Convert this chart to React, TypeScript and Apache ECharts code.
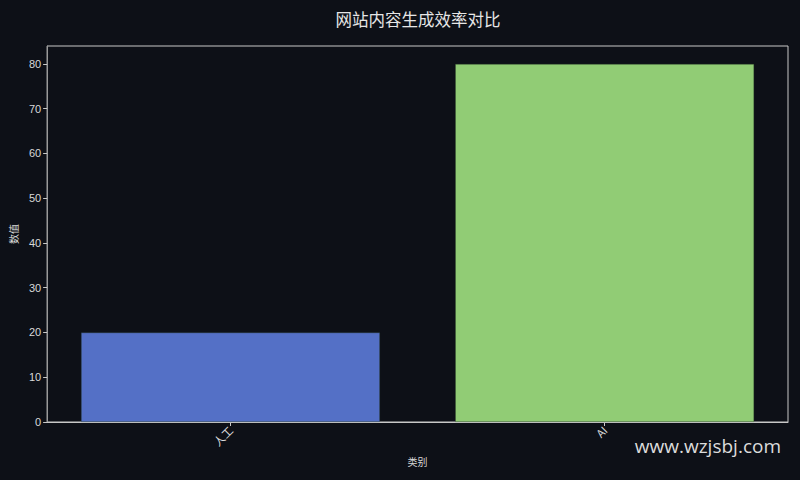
import { useEffect, useRef } from 'react';
import * as echarts from 'echarts';
import type { ECharts, EChartsOption } from 'echarts';

// 数据
const categories = ['人工', 'AI'];
const values = [20, 80];
const barColors = ['#5470c6', '#91cc75'];
const yTicks = [0, 10, 20, 30, 40, 50, 60, 70, 80];

const BG = '#0d1017';
const TEXT = '#d9d9d9';
const CJK = '"Noto Sans CJK SC", sans-serif';

const App = () => {
    const chartRef = useRef<HTMLDivElement>(null);
    const chartInstance = useRef<ECharts | null>(null);

    useEffect(() => {
        document.body.style.margin = '0';
        document.body.style.background = BG;
        if (!chartRef.current) return;
        chartInstance.current = echarts.init(chartRef.current, null, { renderer: 'svg' });

        const option: EChartsOption = {
            animation: false,
            backgroundColor: BG,
            textStyle: { fontFamily: '"Liberation Sans", "Noto Sans CJK SC", sans-serif' },
            title: {
                text: '网站内容生成效率对比',
                left: 413,
                textAlign: 'center',
                top: 6,
                textStyle: {
                    color: '#e6e6e6',
                    fontSize: 16.5,
                    fontWeight: 'normal',
                    fontFamily: CJK
                }
            },
            grid: {
                left: 46,
                right: 12,
                top: 46,
                bottom: 58,
                show: true,
                borderColor: '#c8c8c8',
                borderWidth: 1,
                backgroundColor: 'transparent'
            },
            // 数值型 x 轴，模拟 matplotlib 的边距 (-0.49 ~ 1.49)
            xAxis: {
                type: 'value',
                min: -0.49,
                max: 1.49,
                name: '类别',
                nameLocation: 'middle',
                nameGap: 34,
                nameTextStyle: { color: TEXT, fontSize: 10, fontFamily: CJK },
                axisLine: { show: true, onZero: false, lineStyle: { color: '#c8c8c8', width: 1 } },
                axisTick: {
                    show: true,
                    length: 4,
                    customValues: categories.map((_, i) => i),
                    lineStyle: { color: '#c8c8c8' }
                },
                axisLabel: {
                    rotate: 45,
                    margin: 6,
                    color: TEXT,
                    fontSize: 11,
                    fontFamily: CJK,
                    customValues: categories.map((_, i) => i),
                    formatter: (v: number) => categories[Math.round(v)] ?? ''
                },
                splitLine: { show: false }
            },
            yAxis: {
                type: 'value',
                min: 0,
                max: 84,
                interval: 10,
                name: '数值',
                nameLocation: 'middle',
                nameGap: 28,
                nameRotate: 90,
                nameTextStyle: { color: TEXT, fontSize: 10, fontFamily: CJK },
                axisLine: { show: true, onZero: false, lineStyle: { color: '#999999', width: 1 } },
                axisTick: {
                    show: true,
                    length: 4,
                    customValues: yTicks,
                    lineStyle: { color: '#c8c8c8' }
                },
                axisLabel: {
                    color: TEXT,
                    fontSize: 11,
                    margin: 6,
                    customValues: yTicks
                },
                splitLine: { show: false }
            },
            series: [
                {
                    type: 'bar',
                    barWidth: 299,
                    data: values.map((v, i) => ({
                        value: [i, v],
                        itemStyle: {
                            color: barColors[i],
                            borderColor: 'rgba(40,60,40,0.6)',
                            borderWidth: 0.6
                        }
                    }))
                }
            ],
            graphic: [
                {
                    type: 'text',
                    right: 19,
                    top: 436,
                    style: {
                        text: 'www.wzjsbj.com',
                        fill: '#dcdcdc',
                        fontSize: 19,
                        fontFamily: '"Open Sans", sans-serif'
                    }
                }
            ]
        };

        chartInstance.current.setOption(option, true);

        return () => {
            chartInstance.current?.dispose();
            chartInstance.current = null;
        };
    }, []);

    return <div ref={chartRef} style={{ width: 800, height: 480 }} />;
};

export default App;
